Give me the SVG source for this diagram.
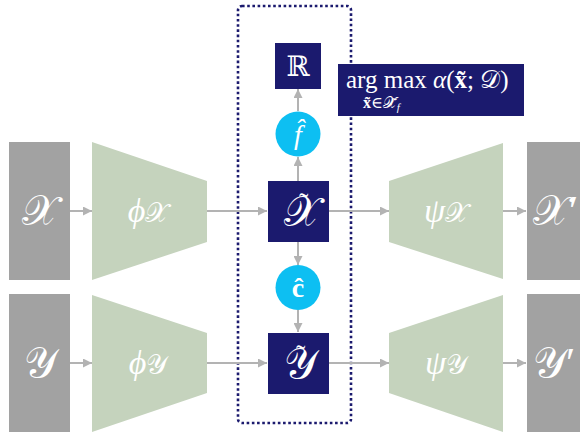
<svg xmlns="http://www.w3.org/2000/svg" width="580" height="432" viewBox="0 0 580 432">
<defs>
<marker id="ah" viewBox="0 0 10 10" refX="10" refY="5" markerWidth="4.5" markerHeight="4.5" markerUnits="strokeWidth" orient="auto">
<path d="M0,0 L10,5 L0,10 z" fill="#b3b3b3"/>
</marker>
<style>
.io{fill:#a2a2a2}
.enc{fill:#c5d3bd}
.lat{fill:#1b1a6e}
.op{fill:#0dbff2}
.t{fill:#ffffff;font-family:"Liberation Serif","DejaVu Serif",serif;text-anchor:middle}
.s{fill:#ffffff;font-family:"Liberation Serif","DejaVu Serif",serif;text-anchor:middle;font-size:42px}
.g{font-size:34px;font-style:italic}
.sub{font-size:27px;font-style:normal}
.conn line{stroke:#b3b3b3;stroke-width:2;marker-end:url(#ah)}
</style>
</defs>
<rect width="580" height="432" fill="#ffffff"/>
<g id="latent-region">
<rect x="238" y="6" width="113" height="417" rx="4" fill="none" stroke="#1b1a6e" stroke-width="2.6" stroke-dasharray="2.6 2.6"/>
</g>
<g class="conn" id="connectors">
<line x1="70" y1="211" x2="92" y2="211"/>
<line x1="207" y1="211" x2="267" y2="211"/>
<line x1="329" y1="211" x2="389" y2="211"/>
<line x1="503" y1="211" x2="526" y2="211"/>
<line x1="70" y1="363" x2="92" y2="363"/>
<line x1="207" y1="363" x2="267" y2="363"/>
<line x1="329" y1="363" x2="389" y2="363"/>
<line x1="503" y1="363" x2="526" y2="363"/>
<line x1="298" y1="181" x2="298" y2="157"/>
<line x1="298" y1="111" x2="298" y2="89"/>
<line x1="298" y1="242" x2="298" y2="265"/>
<line x1="298" y1="310" x2="298" y2="332"/>
</g>
<g id="X">
<rect class="io" x="9" y="142" width="61" height="138"/>
<text class="s" x="40" y="225">𝒳</text>
</g>
<g id="Y">
<rect class="io" x="9" y="294" width="61" height="138"/>
<text class="s" x="40" y="377">𝒴</text>
</g>
<g id="phiX">
<polygon class="enc" points="92,142 207,181 207,242 92,280"/>
<text class="t g" x="148" y="222">ϕ<tspan class="sub">𝒳</tspan></text>
</g>
<g id="phiY">
<polygon class="enc" points="92,295 207,333 207,393 92,432"/>
<text class="t g" x="148" y="374">ϕ<tspan class="sub">𝒴</tspan></text>
</g>
<g id="Xtilde">
<rect class="lat" x="268" y="181" width="61" height="61"/>
<text class="s" x="284" y="226" font-size="36" style="text-anchor:start">𝒳<tspan dx="-21" dy="-14" font-size="28">˜</tspan></text>
</g>
<g id="Ytilde">
<rect class="lat" x="268" y="333" width="61" height="61"/>
<text class="s" x="284" y="378" font-size="36" style="text-anchor:start">𝒴<tspan dx="-21" dy="-14" font-size="28">˜</tspan></text>
</g>
<g id="fhat">
<circle class="op" cx="298" cy="134" r="22.5"/>
<text class="t" x="298" y="144" font-size="28" font-style="italic">f̂</text>
</g>
<g id="chat">
<circle class="op" cx="298" cy="287.5" r="22.5"/>
<text class="t" x="298" y="297" font-size="28" font-weight="bold">ĉ</text>
</g>
<g id="R">
<rect class="lat" x="275" y="43" width="46" height="46"/>
<text class="t" x="298" y="76" font-size="28">ℝ</text>
</g>
<g id="argmax">
<rect class="lat" x="338" y="64" width="186" height="52"/>
<text class="t" x="346" y="88" font-size="25" style="text-anchor:start">arg max <tspan font-style="italic">α</tspan>(<tspan font-weight="bold">x̃</tspan>; 𝒟)</text>
<text class="t" x="363" y="108" font-size="16" style="text-anchor:start"><tspan font-weight="bold">x̃</tspan>∈𝒳̃<tspan font-size="11" dy="3" font-style="italic">f</tspan></text>
</g>
<g id="psiX">
<polygon class="enc" points="389,181 503,143 503,279 389,242"/>
<text class="t g" x="446" y="222">ψ<tspan class="sub">𝒳</tspan></text>
</g>
<g id="psiY">
<polygon class="enc" points="389,333 503,295 503,432 389,393"/>
<text class="t g" x="446" y="374">ψ<tspan class="sub">𝒴</tspan></text>
</g>
<g id="Xprime">
<rect class="io" x="527" y="142" width="61" height="138"/>
<text class="s" x="533" y="225" font-size="38" style="text-anchor:start">𝒳<tspan>′</tspan></text>
</g>
<g id="Yprime">
<rect class="io" x="527" y="294" width="61" height="138"/>
<text class="s" x="533" y="377" font-size="38" style="text-anchor:start">𝒴<tspan>′</tspan></text>
</g>
</svg>
